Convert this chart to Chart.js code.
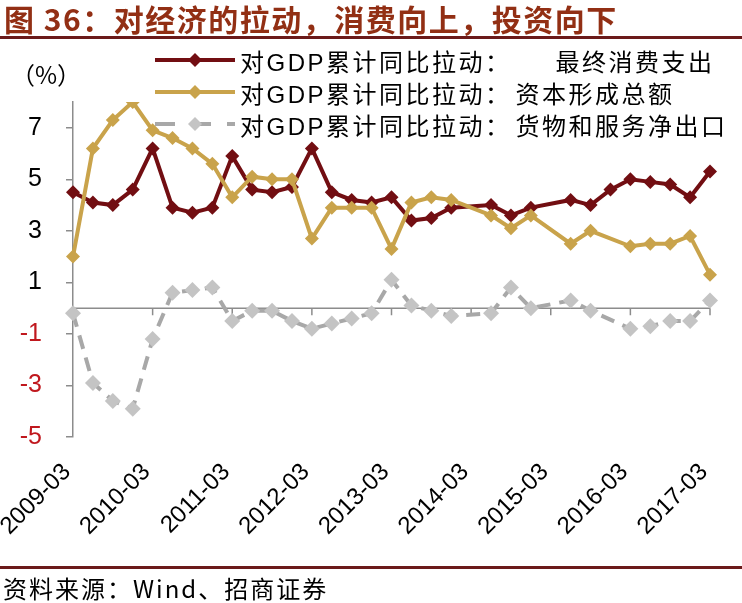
<!DOCTYPE html>
<html>
<head>
<meta charset="utf-8">
<script src="https://cdn.jsdelivr.net/npm/chart.js@4.4.0/dist/chart.umd.min.js"></script>
<style>
  html, body { margin: 0; padding: 0; background: #fff; }
  #wrap { position: relative; width: 742px; height: 603px; overflow: hidden; }
  #chart { position: absolute; left: 0; top: 0; }
  .title { position: absolute; left: 4px; top: 0; font-family: "Noto Sans CJK SC", sans-serif; font-weight: 700; font-size: 30px; line-height: 36px; color: #922F14; letter-spacing: 1.5px; white-space: nowrap; }
  .rule { position: absolute; left: 0; width: 742px; height: 3px; background: #6B1A1A; }
  .unit { position: absolute; left: 11px; top: 56px; font-family: "Noto Sans CJK SC", sans-serif; font-size: 24px; color: #000; }
  .legend { position: absolute; left: 155px; top: 44px; }
  .legend-row { height: 32px; display: flex; align-items: center; }
  .legend-row svg { width: 80px; height: 20px; margin-right: 5px; }
  .legend-row span { font-family: "Liberation Sans", "Noto Sans CJK SC", sans-serif; font-size: 24px; letter-spacing: 2.5px; color: #000; white-space: nowrap; }
  .source { position: absolute; left: 3px; top: 570px; font-family: "Noto Sans CJK SC", "Liberation Sans", sans-serif; font-size: 24px; letter-spacing: 2px; color: #000; white-space: nowrap; }
</style>
</head>
<body>
<div id="wrap">
  <canvas id="chart" width="742" height="603"></canvas>
  <div class="title">图 36：对经济的拉动，消费向上，投资向下</div>
  <div class="rule" style="top:36px"></div>
  <div class="unit">（%）</div>
  <div class="legend" id="legend"></div>
  <div class="rule" style="top:566px"></div>
  <div class="source">资料来源：Wind、招商证券</div>
</div>
<script>
// Quarterly data, 2009Q1 - 2017Q1 (null = no value that quarter)
const quarters = [
  '2009-03', '2009-06', '2009-09', '2009-12',
  '2010-03', '2010-06', '2010-09', '2010-12',
  '2011-03', '2011-06', '2011-09', '2011-12',
  '2012-03', '2012-06', '2012-09', '2012-12',
  '2013-03', '2013-06', '2013-09', '2013-12',
  '2014-03', '2014-06', '2014-09', '2014-12',
  '2015-03', '2015-06', '2015-09', '2015-12',
  '2016-03', '2016-06', '2016-09', '2016-12',
  '2017-03'
];
const consumption = [4.5, 4.1, 4.0, 4.6, 6.2, 3.9, 3.7, 3.9, 5.9, 4.6, 4.5, 4.7, 6.2, 4.5, 4.2, 4.1,
  4.3, 3.4, 3.5, 3.9, null, 4.0, 3.6, 3.9, null, 4.2, 4.0, 4.6, 5.0, 4.9, 4.8, 4.3, 5.3];
const capital = [2.0, 6.2, 7.3, 8.0, 6.9, 6.6, 6.2, 5.6, 4.3, 5.1, 5.0, 5.0, 2.7, 3.9, 3.9, 3.9,
  2.3, 4.1, 4.3, 4.2, null, 3.6, 3.1, 3.6, null, 2.5, 3.0, null, 2.4, 2.5, 2.5, 2.8, 1.3];
const netExports = [-0.2, -2.9, -3.6, -3.9, -1.2, 0.6, 0.7, 0.8, -0.5, -0.1, -0.1, -0.5, -0.8, -0.6, -0.4, -0.2,
  1.1, 0.1, -0.1, -0.3, null, -0.2, 0.8, 0.0, null, 0.3, -0.1, null, -0.8, -0.7, -0.5, -0.5, 0.3];
const yTicks = [-5, -3, -1, 1, 3, 5, 7];
const seriesPrefix = '对GDP累计同比拉动：';
const seriesNames = ['最终消费支出', '资本形成总额', '货物和服务净出口'];

const COL_RED = '#720E12';
const COL_GOLD = '#C9A34B';
const COL_GRAY_LINE = '#A8A8A8';
const COL_GRAY_PT = '#C4C4C4';

// Legend (line + diamond sample)
const legendStyles = [
  { line: COL_RED, pt: COL_RED, dash: '', gap: 44 },
  { line: COL_GOLD, pt: COL_GOLD, dash: '', gap: 4 },
  { line: COL_GRAY_LINE, pt: COL_GRAY_PT, dash: '20 16', gap: 4 }
];
document.getElementById('legend').innerHTML = seriesNames.map((name, i) => {
  const s = legendStyles[i];
  return `
    <div class="legend-row">
      <svg viewBox="0 0 80 20">
        <line x1="0" y1="10" x2="80" y2="10" stroke="${s.line}" stroke-width="4" stroke-dasharray="${s.dash}"/>
        <polygon points="40,3 47,10 40,17 33,10" fill="${s.pt}"/>
      </svg>
      <span>${seriesPrefix}</span><span style="margin-left:${s.gap}px">${name}</span>
    </div>`;
}).join('');

// Zero line with year tick marks, drawn at y = 0 like the original
const zeroAxis = {
  id: 'zeroAxis',
  beforeDatasetsDraw(chart) {
    const { ctx, chartArea, scales: { x, y } } = chart;
    const y0 = y.getPixelForValue(0);
    ctx.save();
    ctx.strokeStyle = '#8C8C8C';
    ctx.lineWidth = 1.5;
    ctx.beginPath();
    ctx.moveTo(chartArea.left, y0);
    ctx.lineTo(chartArea.right, y0);
    quarters.forEach((q, i) => {
      if (i === 0 || i % 4 !== 0) return;
      const px = x.getPixelForValue(i);
      ctx.moveTo(px, y0);
      ctx.lineTo(px, y0 + 7);
    });
    ctx.stroke();
    ctx.restore();
  }
};

Chart.defaults.font.family = '"Liberation Sans", Arial, sans-serif';
Chart.defaults.color = '#000';

new Chart(document.getElementById('chart'), {
  type: 'line',
  data: {
    labels: quarters,
    datasets: [
      {
        label: seriesPrefix + seriesNames[0], data: consumption, order: 3,
        borderColor: COL_RED, backgroundColor: COL_RED, borderWidth: 4,
        pointStyle: 'rectRot', pointRadius: 7, pointBorderWidth: 0, spanGaps: true
      },
      {
        label: seriesPrefix + seriesNames[1], data: capital, order: 2,
        borderColor: COL_GOLD, backgroundColor: COL_GOLD, borderWidth: 4,
        pointStyle: 'rectRot', pointRadius: 7, pointBorderWidth: 0, spanGaps: true
      },
      {
        label: seriesPrefix + seriesNames[2], data: netExports, order: 1,
        borderColor: COL_GRAY_LINE, backgroundColor: COL_GRAY_PT, borderWidth: 4, borderDash: [14, 9],
        pointStyle: 'rectRot', pointRadius: 8, pointBorderWidth: 0, spanGaps: true
      }
    ]
  },
  options: {
    responsive: false,
    animation: false,
    layout: { padding: { left: 0, right: 32, top: 102, bottom: 36 } },
    plugins: { legend: { display: false }, tooltip: { enabled: false } },
    scales: {
      x: {
        offset: false,
        grid: { display: false, drawTicks: false },
        border: { display: false },
        afterFit: axis => {
          axis.height = 130;
          axis.paddingLeft = 0;
          axis.paddingRight = 0;
        },
        ticks: {
          autoSkip: false, maxRotation: 45, minRotation: 45, padding: 21, labelOffset: -6,
          font: { size: 24 },
          callback: (v, i) => (i % 4 === 0 ? quarters[i] : '')
        }
      },
      y: {
        min: -5, max: 8,
        afterBuildTicks: axis => { axis.ticks = yTicks.map(v => ({ value: v })); },
        afterFit: axis => { axis.width = 73; },
        border: { display: true, color: '#8C8C8C', width: 1.5 },
        grid: { drawOnChartArea: false, drawTicks: true, tickLength: 7, color: '#8C8C8C', lineWidth: 1.5 },
        ticks: {
          padding: 24,
          font: { size: 25 },
          color: ctx => (ctx.tick.value < 0 ? '#C0181E' : '#000')
        }
      }
    }
  },
  plugins: [zeroAxis]
});
</script>
</body>
</html>
